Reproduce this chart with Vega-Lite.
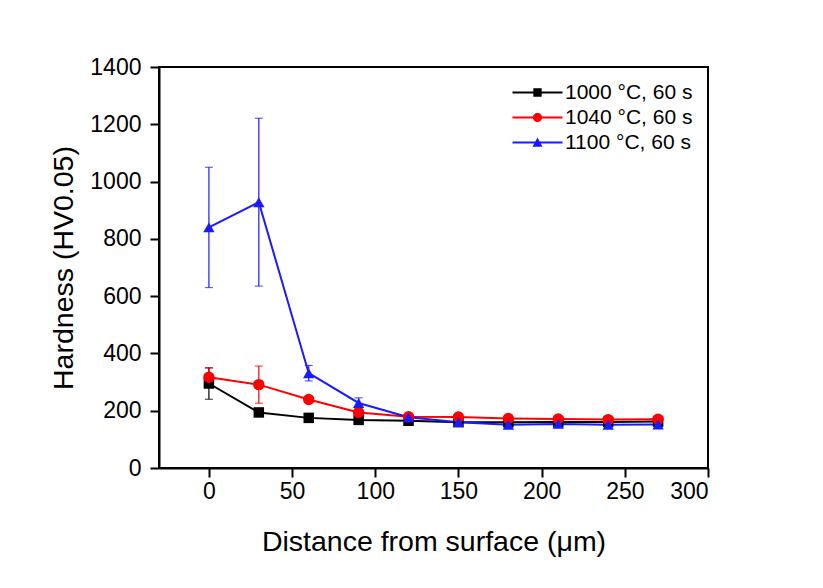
{
  "$schema": "https://vega.github.io/schema/vega-lite/v6.json",
  "width": 549,
  "height": 401,
  "autosize": {"type": "none"},
  "padding": {"left": 159, "top": 67, "right": 115, "bottom": 120},
  "background": "white",
  "config": {
    "font": "Liberation Sans",
    "view": {"stroke": "black", "strokeWidth": 2},
    "axis": {
      "grid": false,
      "domainColor": "black",
      "domainWidth": 2,
      "tickColor": "black",
      "tickWidth": 2,
      "tickSize": 9,
      "labelColor": "black",
      "labelFontSize": 23,
      "labelFont": "Liberation Sans",
      "titleColor": "black",
      "titleFont": "Liberation Sans",
      "titleFontSize": 28.5,
      "titleFontWeight": "normal"
    },
    "legend": {
      "title": null,
      "orient": "none",
      "legendX": 368,
      "legendY": 15,
      "padding": 0,
      "labelFontSize": 21,
      "labelColor": "black",
      "labelFont": "Liberation Sans",
      "labelOffset": 17,
      "symbolSize": 278,
      "symbolOpacity": 1,
      "symbolStrokeWidth": 0,
      "rowPadding": 3,
      "labelLimit": 300
    }
  },
  "data": {
    "values": [
      {"series": "1000 °C, 60 s", "x": 0, "y": 295, "err": 55},
      {"series": "1000 °C, 60 s", "x": 30, "y": 194, "err": 8},
      {"series": "1000 °C, 60 s", "x": 60, "y": 175, "err": 5},
      {"series": "1000 °C, 60 s", "x": 90, "y": 168, "err": 5},
      {"series": "1000 °C, 60 s", "x": 120, "y": 165, "err": 5},
      {"series": "1000 °C, 60 s", "x": 150, "y": 160, "err": 4},
      {"series": "1000 °C, 60 s", "x": 180, "y": 160, "err": 4},
      {"series": "1000 °C, 60 s", "x": 210, "y": 161, "err": 4},
      {"series": "1000 °C, 60 s", "x": 240, "y": 161, "err": 4},
      {"series": "1000 °C, 60 s", "x": 270, "y": 162, "err": 4},
      {"series": "1040 °C, 60 s", "x": 0, "y": 317, "err": 32},
      {"series": "1040 °C, 60 s", "x": 30, "y": 291, "err": 65},
      {"series": "1040 °C, 60 s", "x": 60, "y": 239, "err": 8},
      {"series": "1040 °C, 60 s", "x": 90, "y": 194, "err": 8},
      {"series": "1040 °C, 60 s", "x": 120, "y": 179, "err": 6},
      {"series": "1040 °C, 60 s", "x": 150, "y": 178, "err": 5},
      {"series": "1040 °C, 60 s", "x": 180, "y": 173, "err": 5},
      {"series": "1040 °C, 60 s", "x": 210, "y": 171, "err": 5},
      {"series": "1040 °C, 60 s", "x": 240, "y": 169, "err": 5},
      {"series": "1040 °C, 60 s", "x": 270, "y": 170, "err": 5},
      {"series": "1100 °C, 60 s", "x": 0, "y": 840, "err": 210},
      {"series": "1100 °C, 60 s", "x": 30, "y": 928, "err": 293},
      {"series": "1100 °C, 60 s", "x": 60, "y": 331, "err": 27},
      {"series": "1100 °C, 60 s", "x": 90, "y": 227, "err": 18},
      {"series": "1100 °C, 60 s", "x": 120, "y": 177, "err": 10},
      {"series": "1100 °C, 60 s", "x": 150, "y": 160, "err": 8},
      {"series": "1100 °C, 60 s", "x": 180, "y": 151, "err": 10},
      {"series": "1100 °C, 60 s", "x": 210, "y": 154, "err": 8},
      {"series": "1100 °C, 60 s", "x": 240, "y": 151, "err": 8},
      {"series": "1100 °C, 60 s", "x": 270, "y": 152, "err": 8}
    ]
  },
  "encoding": {
    "x": {
      "field": "x",
      "type": "quantitative",
      "scale": {"domain": [-30, 300], "nice": false, "zero": false},
      "axis": {"values": [0, 50, 100, 150, 200, 250, 300], "format": "d", "title": "Distance from surface (μm)", "labelPadding": 3, "titlePadding": 24}
    },
    "y": {
      "field": "y",
      "type": "quantitative",
      "scale": {"domain": [0, 1400], "nice": false},
      "axis": {"values": [0, 200, 400, 600, 800, 1000, 1200, 1400], "format": "d", "title": "Hardness (HV0.05)", "labelPadding": 9, "titlePadding": 11}
    },
    "color": {
      "field": "series", "type": "nominal",
      "scale": {"domain": ["1000 °C, 60 s", "1040 °C, 60 s", "1100 °C, 60 s"], "range": ["#000000", "#ff0000", "#1a1aff"]}
    }
  },
  "layer": [
    {
      "mark": {"type": "errorbar", "ticks": {"size": 8}, "thickness": 1.2},
      "encoding": {"yError": {"field": "err"}}
    },
    {
      "mark": {"type": "line", "strokeWidth": 2},
      "encoding": {"order": {"field": "x", "type": "quantitative"}}
    },
    {
      "transform": [{"filter": "datum.series === '1000 °C, 60 s'"}],
      "mark": {"type": "point", "shape": "square", "filled": true, "opacity": 1, "size": 110}
    },
    {
      "transform": [{"filter": "datum.series === '1040 °C, 60 s'"}],
      "mark": {"type": "point", "shape": "circle", "filled": true, "opacity": 1, "size": 130}
    },
    {
      "transform": [{"filter": "datum.series === '1100 °C, 60 s'"}],
      "mark": {"type": "point", "shape": "triangle-up", "filled": true, "opacity": 1, "size": 130}
    },
    {
      "mark": {"type": "point", "filled": true, "opacity": 0},
      "encoding": {
        "shape": {
          "field": "series", "type": "nominal",
          "scale": {
            "domain": ["1000 °C, 60 s", "1040 °C, 60 s", "1100 °C, 60 s"],
            "range": [
              "M-3,-0.12H3V0.12H-3Z M-0.5,-0.5H0.5V0.5H-0.5Z",
              "M-3,-0.12H3V0.12H-3Z M0.55,0A0.55,0.55 0 1,1 -0.55,0A0.55,0.55 0 1,1 0.55,0Z",
              "M-3,-0.12H3V0.12H-3Z M0,-0.6L0.6,0.5H-0.6Z"
            ]
          }
        }
      }
    }
  ]
}
